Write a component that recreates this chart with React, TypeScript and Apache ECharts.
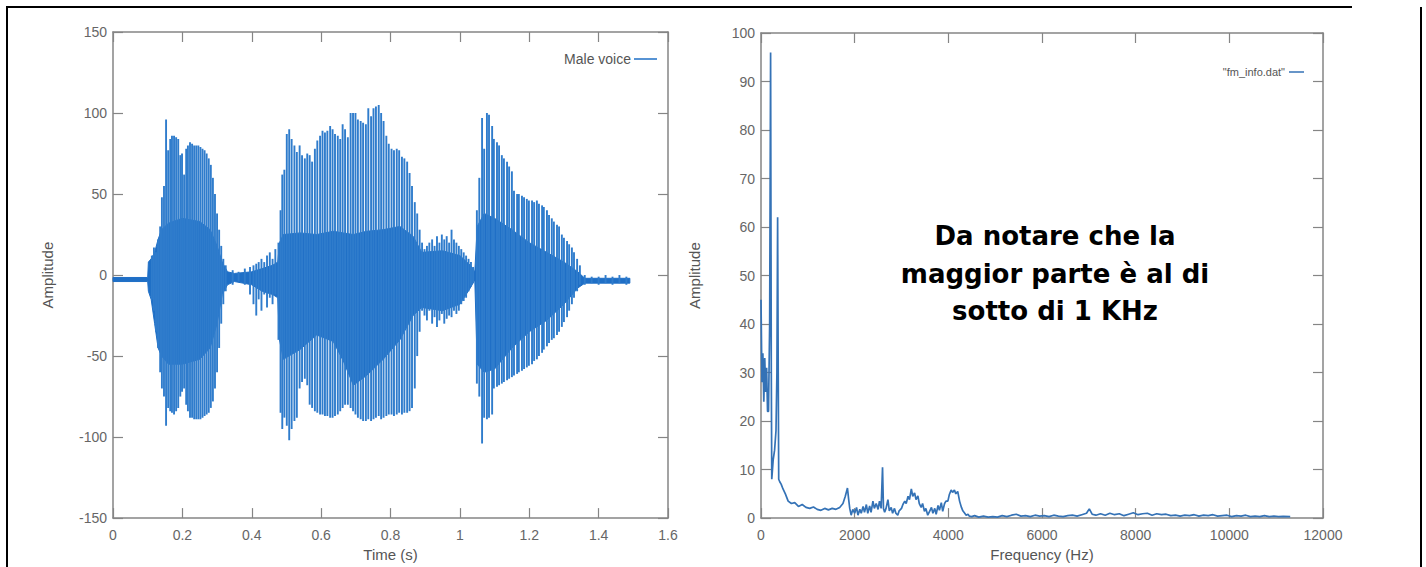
import React, { useEffect, useRef } from "react";
import * as echarts from "echarts";

// ---------- Left chart: male voice waveform ----------
// dense core of the waveform (inner envelope)
const envT = [0, 0.1, 0.102, 0.11, 0.12, 0.13, 0.14, 0.16, 0.2, 0.25, 0.28, 0.3, 0.315, 0.33, 0.35, 0.4, 0.43, 0.46, 0.475, 0.48, 0.491, 0.539, 0.587, 0.635, 0.664, 0.693, 0.731, 0.779, 0.827, 0.865, 0.89, 0.95, 1.0, 1.03, 1.043, 1.05, 1.07, 1.1, 1.15, 1.2, 1.25, 1.3, 1.34, 1.36, 1.49];
const envHi = [-1.5, -1.5, 8, 10, 14, 22, 28, 32, 35, 33, 28, 18, 8, 2, 1, 2, 4, 6, 8, 20, 25, 26, 25, 27, 26, 25, 27, 28, 30, 24, 14, 15, 12, 6, 2, 30, 38, 35, 28, 20, 14, 8, 2, -2, -2];
const envLo = [-4, -4, -10, -15, -30, -45, -50, -55, -55, -52, -45, -30, -12, -6, -4, -6, -10, -12, -14, -40, -52, -46, -37, -41, -53, -68, -62, -52, -40, -25, -20, -22, -18, -8, -3, -55, -60, -58, -45, -35, -28, -18, -8, -5, -5];

// glottal pulses: time, positive peak, negative peak
const pulseT = [
  0.112, 0.118, 0.124, 0.13, 0.136, 0.141, 0.147, 0.153, 0.159, 0.165, 0.17, 0.176, 0.182, 0.188, 0.194, 0.199, 0.205, 0.211, 0.216, 0.222, 0.228, 0.234, 0.24, 0.246, 0.252, 0.258, 0.264, 0.27, 0.276, 0.282, 0.288, 0.294, 0.3, 0.306, 0.312, 0.318, 0.325,
  0.345, 0.362, 0.38, 0.395, 0.405, 0.413, 0.42, 0.428, 0.436, 0.444, 0.452, 0.46, 0.468,
  0.477, 0.483, 0.488, 0.494, 0.501, 0.508, 0.515, 0.523, 0.53, 0.538, 0.545, 0.553, 0.56, 0.567, 0.574, 0.582, 0.589, 0.597, 0.604, 0.611, 0.618, 0.626, 0.633, 0.64, 0.648, 0.655, 0.662, 0.669, 0.677, 0.685, 0.692, 0.699, 0.706, 0.714, 0.721, 0.729, 0.736, 0.744, 0.751, 0.758, 0.766, 0.773, 0.78, 0.788, 0.795, 0.803, 0.81, 0.818, 0.825, 0.833, 0.84, 0.848, 0.855, 0.862, 0.87, 0.877, 0.884, 0.891,
  0.898, 0.905, 0.912, 0.92, 0.927, 0.934, 0.941, 0.948, 0.955, 0.962, 0.969, 0.976, 0.983, 0.99, 0.997, 1.004, 1.011, 1.018, 1.025, 1.032, 1.038,
  1.049, 1.056, 1.064, 1.07, 1.078, 1.084, 1.093, 1.098, 1.107, 1.113, 1.121, 1.127, 1.136, 1.142, 1.15, 1.156, 1.165, 1.17, 1.179, 1.185, 1.193, 1.199, 1.208, 1.214, 1.222, 1.228, 1.237, 1.242, 1.251, 1.257, 1.265, 1.271, 1.28, 1.286, 1.294, 1.3, 1.309, 1.315, 1.323, 1.329, 1.338, 1.346,
  1.36, 1.38, 1.4, 1.42, 1.44, 1.46, 1.48
];
const pulseHi = [
  12, 17, 14, 22, 30, 48, 55, 96, 77, 84, 86, 86, 85, 84, 74, 75, 62, 78, 80, 82, 81, 80, 80, 80, 79, 78, 77, 75, 72, 68, 60, 50, 38, 28, 18, 10, 6,
  3, 2, 4, 5, 6, 7, 8, 10, 8, 12, 14, 10, 16,
  20, 40, 62, 65, 87, 90, 84, 80, 76, 80, 74, 72, 75, 74, 70, 78, 83, 86, 89, 88, 89, 92, 90, 87, 86, 84, 93, 90, 85, 100, 100, 100, 96, 95, 94, 93, 103, 98, 103, 104, 105, 100, 95, 86, 81, 78, 77, 78, 77, 73, 72, 70, 63, 55, 45, 38, 28, 20,
  16, 18, 20, 22, 18, 24, 20, 25, 22, 24, 20, 28, 22, 20, 18, 16, 14, 12, 10, 8, 5,
  40, 60, 97, 78, 100, 99, 92, 84, 82, 80, 74, 72, 70, 67, 64, 52, 50, 50, 49, 48, 47, 46, 46, 45, 46, 44, 43, 42, 40, 37, 35, 33, 31, 30, 25, 23, 21, 19, 17, 14, 10, 6,
  0, -1, -1, 0, -1, 0, -1
];
const pulseLo = [
  -15, -22, -35, -45, -60, -70, -75, -93, -82, -84, -85, -86, -84, -82, -75, -72, -70, -80, -84, -88, -88, -89, -89, -89, -89, -88, -87, -86, -85, -82, -78, -70, -60, -45, -30, -18, -10,
  -6, -4, -6, -12, -18, -25, -15, -22, -12, -20, -14, -18, -12,
  -40, -85, -95, -88, -93, -102, -95, -90, -88, -70, -66, -64, -68, -80, -82, -84, -85, -86, -86, -87, -87, -88, -88, -87, -86, -84, -82, -80, -80, -82, -84, -86, -88, -89, -90, -90, -89, -90, -89, -88, -87, -89, -88, -87, -86, -86, -87, -86, -85, -86, -85, -85, -84, -82, -70, -50, -35, -22,
  -25, -28, -22, -30, -26, -32, -28, -24, -30, -27, -25, -26, -22, -24, -22, -18, -16, -14, -10, -7, -5,
  -67, -75, -104, -88, -89, -88, -86, -70, -69, -68, -67, -66, -65, -64, -63, -62, -61, -60, -59, -58, -57, -56, -55, -53, -52, -50, -48, -46, -44, -42, -40, -39, -37, -35, -32, -29, -26, -22, -18, -14, -10, -6,
  -6, -5, -6, -5, -6, -5, -6
];

// ---------- Right chart: spectrum "fm_info.dat" ----------
const freqHz = [
  0, 20, 40, 60, 80, 100, 120, 140, 160, 185, 205, 220, 230, 260, 290, 320, 340, 355, 368, 378, 400, 430, 470, 520, 580, 650, 720, 800, 880, 960, 1040, 1120, 1200, 1280, 1360, 1440, 1520, 1600, 1680, 1750, 1800, 1846, 1870, 1895, 1925, 1960, 2000, 2040, 2070, 2110, 2140, 2180, 2210, 2250, 2280, 2320, 2350, 2390, 2420, 2460, 2500, 2530, 2565, 2595, 2615, 2640, 2670, 2710, 2740, 2780, 2810, 2850, 2880, 2920, 2950, 3000, 3030, 3070, 3100, 3140, 3170, 3210, 3240, 3280, 3310, 3350, 3380, 3420, 3450, 3490, 3520, 3560, 3600, 3640, 3670, 3710, 3740, 3780, 3810, 3850, 3880, 3920, 3950, 3990, 4020, 4060, 4090, 4130, 4160, 4200, 4240, 4280, 4310, 4350, 4380, 4420, 4450, 4500, 4560, 4650, 4750, 4850, 4950, 5050, 5150, 5250, 5350, 5450, 5550, 5650, 5750, 5850, 5950, 6050, 6150, 6250, 6350, 6450, 6550, 6650, 6750, 6850, 6950, 7010, 7070, 7150, 7250, 7350, 7450, 7550, 7650, 7750, 7850, 7950, 8050, 8150, 8250, 8350, 8450, 8550, 8650, 8750, 8850, 8950, 9050, 9150, 9250, 9350, 9450, 9550, 9650, 9750, 9850, 9950, 10050, 10150, 10250, 10350, 10450, 10550, 10650, 10750, 10850, 10950, 11050, 11150, 11300
];
const specAmp = [
  45, 28, 34, 24, 33, 26, 31, 22, 22, 40, 96, 30, 8, 12, 14, 18, 30, 62, 30, 8, 7.5, 7, 6, 5, 3.5, 3, 3.2, 2.4, 2.8, 2.2, 2, 2.3, 1.8, 1.6, 2, 1.7, 2, 1.8, 2.2, 3, 4.5, 6.2, 4, 2, 0.6, 1.8, 1, 2.2, 0.6, 1.8, 1, 2.4, 1.2, 2.8, 1, 2.5, 1.2, 3.5, 2, 3, 1.8, 3.5, 2, 10.5, 2, 1.2, 2, 3.8, 1.5, 2.2, 1, 2, 1, 0.6, 1.5, 2, 2.8, 3.5, 3, 4.5, 3.8, 6, 4.5, 5.2, 3.8, 4.6, 3, 2.2, 3, 1.4, 2, 0.6, 1.4, 2.2, 1, 2, 0.8, 2.6, 1.6, 3.2, 1.4, 3, 3.5, 3.5, 4.8, 5.8, 5.3, 5.8, 5, 5.5, 3.5, 2.2, 1.5, 1, 0.6, 0.8, 0.4, 0.3, 0.5, 0.2, 0.4, 0.2, 0.3, 0.2, 0.5, 0.3, 0.6, 0.8, 0.4, 0.5, 0.3, 0.6, 0.4, 0.5, 0.3, 0.6, 0.4, 0.3, 0.5, 0.6, 0.4, 0.7, 1, 1.9, 0.8, 0.6, 0.9, 0.6, 1, 0.7, 0.9, 0.5, 0.8, 1.1, 0.7, 0.9, 1, 0.6, 0.9, 0.7, 0.8, 0.5, 0.6, 0.4, 0.6, 0.5, 0.7, 0.4, 0.6, 0.5, 0.7, 0.4, 0.5, 0.6, 0.3, 0.5, 0.4, 0.6, 0.3, 0.4, 0.3, 0.5, 0.3, 0.4, 0.3, 0.35, 0.3
];

const noteLines = ["Da notare che la", "maggior parte è al di", "sotto di 1 KHz"];

const FONT = "'Liberation Sans', Arial, sans-serif";
const FRAME = "#858585";
const LABEL = "#666666";
const NAME = "#555555";
const CORE = "#1f6fc6";
const SPIKE = "#2f7ccc";
const SPEC = "#3472b6";

function xAxisPair(grid: number, min: number, max: number, interval: number, name: string, fmt?: (v: number) => string) {
  const line = { onZero: false, lineStyle: { color: FRAME, width: 1.5 } };
  const tick = { inside: true, length: 10, lineStyle: { color: FRAME, width: 1.2 } };
  return [
    {
      gridIndex: grid, type: "value", min, max, interval, position: "bottom",
      axisLine: line, axisTick: tick, splitLine: { show: false },
      axisLabel: { margin: 10, color: LABEL, fontSize: 14, fontFamily: FONT, formatter: fmt },
      name, nameLocation: "middle", nameGap: 26,
      nameTextStyle: { color: NAME, fontSize: 15, fontFamily: FONT },
    },
    {
      gridIndex: grid, type: "value", min, max, interval, position: "top",
      axisLine: line, axisTick: tick, splitLine: { show: false }, axisLabel: { show: false },
    },
  ];
}

function yAxisPair(grid: number, min: number, max: number, interval: number, gap: number) {
  const line = { onZero: false, lineStyle: { color: FRAME, width: 1.5 } };
  const tick = { inside: true, length: 10, lineStyle: { color: FRAME, width: 1.2 } };
  return [
    {
      gridIndex: grid, type: "value", min, max, interval, position: "left",
      axisLine: line, axisTick: tick, splitLine: { show: false },
      axisLabel: { margin: 6, color: LABEL, fontSize: 14, fontFamily: FONT },
      name: "Amplitude", nameLocation: "middle", nameGap: gap, nameRotate: 90,
      nameTextStyle: { color: NAME, fontSize: 15, fontFamily: FONT },
    },
    {
      gridIndex: grid, type: "value", min, max, interval, position: "right",
      axisLine: line, axisTick: tick, splitLine: { show: false }, axisLabel: { show: false },
    },
  ];
}

export default function App() {
  const ref = useRef<HTMLDivElement>(null);

  useEffect(() => {
    const el = ref.current;
    if (!el) return;
    const chart = echarts.init(el, null, { renderer: "svg" });

    const option: any = {
      animation: false,
      backgroundColor: "#ffffff",
      grid: [
        { left: 113, top: 32, width: 555, height: 495 },
        { left: 761, top: 33, width: 562, height: 494 },
      ],
      xAxis: [
        ...xAxisPair(0, 0, 1.6, 0.2, "Time (s)"),
        ...xAxisPair(1, 0, 12000, 2000, "Frequency (Hz)", (v: number) => String(v)),
      ],
      yAxis: [...yAxisPair(0, -150, 150, 50, 58), ...yAxisPair(1, 0, 100, 10, 59)],
      series: [
        {
          type: "custom",
          name: "Male voice core",
          xAxisIndex: 0,
          yAxisIndex: 0,
          data: envT.map((t, i) => [t, envLo[i], envHi[i]]),
          encode: { x: 0, y: [1, 2] },
          renderItem: (params: any, api: any) => {
            if (params.dataIndex !== 0) return null;
            const top = envT.map((t, i) => api.coord([t, envHi[i]]));
            const bot = envT.map((t, i) => api.coord([t, envLo[i]])).reverse();
            return {
              type: "polygon",
              shape: { points: top.concat(bot) },
              style: { fill: CORE, stroke: CORE, lineWidth: 1 },
            };
          },
        },
        {
          type: "custom",
          name: "Male voice",
          xAxisIndex: 0,
          yAxisIndex: 0,
          data: pulseT.map((t, i) => [t, pulseLo[i], pulseHi[i]]),
          encode: { x: 0, y: [1, 2] },
          renderItem: (_params: any, api: any) => {
            const a = api.coord([api.value(0), api.value(1)]);
            const b = api.coord([api.value(0), api.value(2)]);
            return {
              type: "line",
              shape: { x1: a[0], y1: a[1], x2: b[0], y2: b[1] },
              style: { stroke: SPIKE, lineWidth: 1.9 },
            };
          },
        },
        {
          type: "line",
          name: "\"fm_info.dat\"",
          xAxisIndex: 2,
          yAxisIndex: 2,
          showSymbol: false,
          symbol: "none",
          data: freqHz.map((f, i) => [f, specAmp[i]]),
          lineStyle: { color: SPEC, width: 1.7 },
        },
      ],
      graphic: [
        // slide frame
        { type: "polyline", shape: { points: [[7, 567], [7, 7], [1352, 7]] }, style: { stroke: "#000", lineWidth: 2, fill: null } },
        { type: "polyline", shape: { points: [[1421, 7], [1421, 567]] }, style: { stroke: "#000", lineWidth: 2, fill: null } },
        // legends
        { type: "text", x: 631, y: 59, style: { text: "Male voice", fill: NAME, font: `14px ${FONT}`, textAlign: "right", textVerticalAlign: "middle" } },
        { type: "line", shape: { x1: 634, y1: 59, x2: 657, y2: 59 }, style: { stroke: CORE, lineWidth: 1.5 } },
        { type: "text", x: 1285, y: 72, style: { text: "\"fm_info.dat\"", fill: NAME, font: `11px ${FONT}`, textAlign: "right", textVerticalAlign: "middle" } },
        { type: "line", shape: { x1: 1289, y1: 72, x2: 1304, y2: 72 }, style: { stroke: SPEC, lineWidth: 1.5 } },
        // annotation
        ...noteLines.map((txt, i) => ({
          type: "text",
          x: 1055,
          y: 236 + i * 37.5,
          style: {
            text: txt,
            fill: "#000",
            font: `bold 26px 'DejaVu Sans', Verdana, sans-serif`,
            textAlign: "center",
            textVerticalAlign: "middle",
          },
        })),
      ],
    };

    chart.setOption(option);
    return () => chart.dispose();
  }, []);

  return (
    <div
      ref={ref}
      style={{ position: "fixed", left: 0, top: 0, width: 1426, height: 567, background: "#ffffff" }}
    />
  );
}
